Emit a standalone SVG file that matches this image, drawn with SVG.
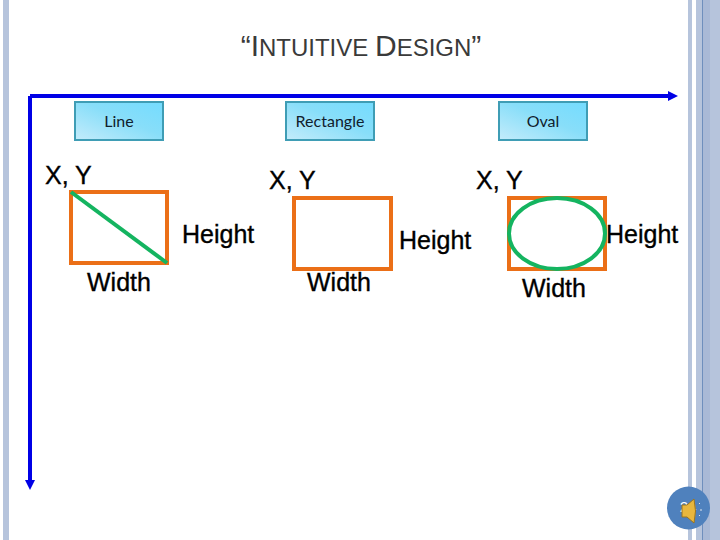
<svg xmlns="http://www.w3.org/2000/svg" width="720" height="540" viewBox="0 0 720 540">
<style>
text{font-family:"Liberation Sans",Arial,sans-serif;fill:#000}
.lbl{font-size:25px;stroke:#000;stroke-width:.35px}
.btn{font-family:"Lato","Open Sans",sans-serif;font-size:16px;text-anchor:middle;fill:#10202c}
.box{fill:url(#btnfill);stroke:#3f9db5;stroke-width:2}
.o{fill:none;stroke:#eb6f17;stroke-width:4}
.g{fill:none;stroke:#14b460;stroke-width:4}
.axis{fill:none;stroke:#0000e6;stroke-width:4}
.bar{fill:#b6c4dc}
</style>
<defs>
<linearGradient id="btnfill" x1="0" y1="1" x2="1" y2="0"><stop offset="0" stop-color="#c4ecfb"/><stop offset="0.55" stop-color="#88def9"/><stop offset="1" stop-color="#74dcff"/></linearGradient>
<marker id="ah" viewBox="0 0 10 10" refX="2" refY="5" markerWidth="10" markerHeight="10" markerUnits="userSpaceOnUse" orient="auto"><path d="M0 0L10 5L0 10z" fill="#0000e6"/></marker>
</defs>
<rect width="720" height="540" fill="#fff"/>
<g id="frame">
<rect class="bar" x="3" y="0" width="6" height="540"/>
<rect class="bar" x="688" y="0" width="4" height="540"/>
<rect class="bar" x="696" y="0" width="24" height="540"/>
<rect x="703" y="0" width="7" height="540" fill="#a9b9d6"/>
<rect x="702" y="0" width="1" height="540" fill="#6f8fbd"/>
</g>
<text id="title" x="361" y="56" text-anchor="middle" font-size="30" style="fill:#3a3a3a">“I<tspan font-size="24">NTUITIVE </tspan>D<tspan font-size="24">ESIGN</tspan>”</text>
<g id="connectors">
<path class="axis" d="M30 96H670" marker-end="url(#ah)"/>
<path class="axis" d="M30 96V482" marker-end="url(#ah)"/>
</g>
<g id="btn-line"><rect class="box" x="75" y="102" width="88" height="38"/><text class="btn" x="119" y="126.500">Line</text></g>
<g id="btn-rect"><rect class="box" x="286" y="102" width="88" height="38"/><text class="btn" x="330" y="126.500">Rectangle</text></g>
<g id="btn-oval"><rect class="box" x="499" y="102" width="88" height="38"/><text class="btn" x="543" y="126.500">Oval</text></g>
<g id="shape-line">
<rect class="o" x="71" y="192" width="96" height="71"/>
<line class="g" x1="71" y1="192" x2="167" y2="263"/>
<text class="lbl" x="45" y="184">X, Y</text>
<text class="lbl" x="182" y="243">Height</text>
<text class="lbl" x="87" y="291">Width</text>
</g>
<g id="shape-rect">
<rect class="o" x="294" y="198" width="97" height="71"/>
<text class="lbl" x="269" y="189">X, Y</text>
<text class="lbl" x="399" y="249">Height</text>
<text class="lbl" x="307" y="291">Width</text>
</g>
<g id="shape-oval">
<rect class="o" x="509" y="198" width="96" height="71"/>
<ellipse class="g" cx="557" cy="233.500" rx="48" ry="35.500"/>
<text class="lbl" x="476" y="189">X, Y</text>
<text class="lbl" x="606" y="243">Height</text>
<text class="lbl" x="522" y="297">Width</text>
</g>
<g id="page-number">
<circle cx="688.500" cy="508" r="21.500" fill="#4f81bd"/>
<text x="688" y="512" font-size="15" text-anchor="middle" style="fill:#fff">24</text>
<path d="M682 505h5l7-6q3 12 0 24l-7-6h-5z" fill="#e8b73e" stroke="#9a7420" stroke-width="1"/>
<path d="M699 503l1 1M700 510h2M699 516l1-1" stroke="#dfe6f0" stroke-width="1" fill="none"/>
</g>
</svg>
